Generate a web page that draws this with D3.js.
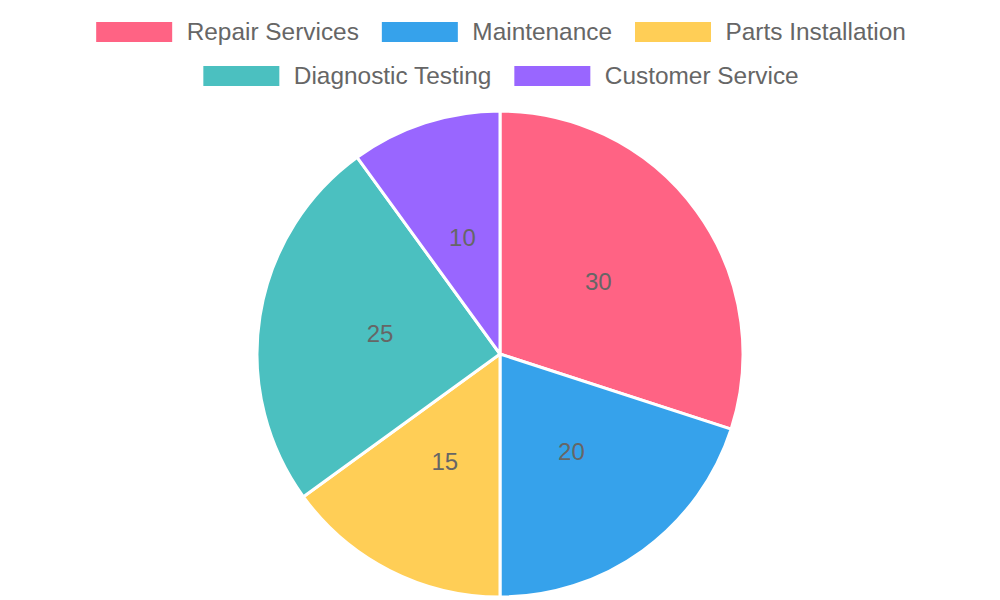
<!DOCTYPE html>
<html>
<head>
<meta charset="utf-8">
<script src="https://cdn.jsdelivr.net/npm/d3@7"></script>
<style>
  body { margin: 0; background: #fff; }
  text { font-family: "Liberation Sans", Arial, sans-serif; }
</style>
</head>
<body>
<div id="chart"></div>
<script>
// chart data
const categories = ['Repair Services', 'Maintenance', 'Parts Installation', 'Diagnostic Testing', 'Customer Service'];
const values = [30, 20, 15, 25, 10];
const colors = ['#FF6384', '#36A2EB', '#FFCE56', '#4BC0C0', '#9966FF'];
const legendRows = [[0, 1, 2], [3, 4]];

const width = 1000, height = 600;
const cx = 500, cy = 354, radius = 243;

const svg = d3.select('#chart').append('svg')
    .attr('width', width)
    .attr('height', height);

// legend, centred row by row
const legend = svg.append('g').attr('class', 'legend');
const boxW = 76, boxH = 20, textGap = 14.5, itemGap = 23;
legendRows.forEach((row, ri) => {
    const rowY = 32 + ri * 44;
    const items = row.map(i => {
        const g = legend.append('g');
        g.append('rect')
            .attr('width', boxW)
            .attr('height', boxH)
            .attr('y', -boxH / 2)
            .attr('fill', colors[i]);
        const t = g.append('text')
            .attr('x', boxW + textGap)
            .attr('y', -1)
            .attr('dy', '0.35em')
            .attr('font-size', 24.4)
            .attr('fill', '#666')
            .text(categories[i]);
        return {g: g, w: boxW + textGap + t.node().getComputedTextLength()};
    });
    const total = d3.sum(items, d => d.w) + itemGap * (items.length - 1);
    let x = (width - total) / 2 + 1;
    items.forEach(it => {
        it.g.attr('transform', 'translate(' + x + ',' + rowY + ')');
        x += it.w + itemGap;
    });
});

// pie
const pie = d3.pie().sort(null).value(d => d)(values);
const arc = d3.arc().innerRadius(0).outerRadius(radius);
const labelArc = d3.arc().innerRadius(radius / 2).outerRadius(radius / 2);

const g = svg.append('g')
    .attr('transform', 'translate(' + cx + ',' + cy + ')');

g.selectAll('path')
    .data(pie)
    .join('path')
    .attr('d', arc)
    .attr('fill', (d, i) => colors[i])
    .attr('stroke', '#fff')
    .attr('stroke-width', 3)
    .attr('stroke-linejoin', 'bevel');

g.selectAll('text.label')
    .data(pie)
    .join('text')
    .attr('class', 'label')
    .attr('transform', d => 'translate(' + labelArc.centroid(d) + ')')
    .attr('text-anchor', 'middle')
    .attr('y', -1)
    .attr('dy', '0.35em')
    .attr('font-size', 24)
    .attr('fill', '#666')
    .text(d => d.data);
</script>
</body>
</html>
